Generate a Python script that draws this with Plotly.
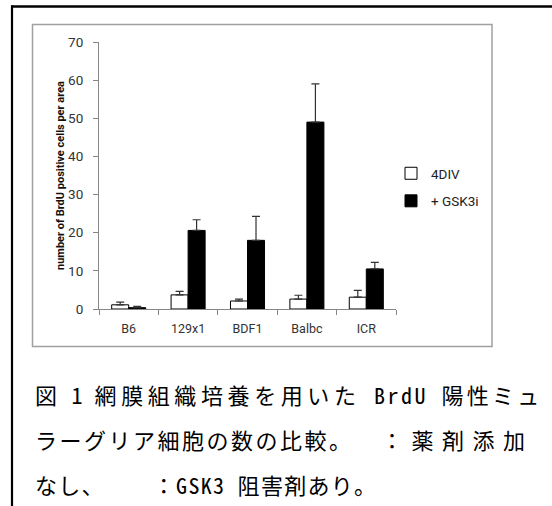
import plotly.graph_objects as go

# ---- data ----
categories = ["B6", "129x1", "BDF1", "Balbc", "ICR"]
div4_values = [1.1, 3.7, 2.1, 2.6, 3.1]
div4_errors = [0.7, 0.9, 0.5, 1.0, 1.8]
gsk_values = [0.35, 20.6, 18.0, 49.0, 10.5]
gsk_errors = [0.35, 2.8, 6.3, 10.0, 1.7]
series_names = ["4DIV", "+ GSK3i"]
y_title = "number of BrdU positive cells per area"
# caption pieces (text, letter-spacing in px) - justified like the source document
caption_line1 = [("図", 3), (" 1 ", 0.5), ("網膜組織培養を用いた", 4.6), (" BrdU ", 2.5), ("陽性ミュ", 3.2)]
caption_line2a = [("ラーグリア細胞の数の比較。", 2.5)]
caption_line2b = [("：薬剤添加", 8.5)]
caption_line3 = [("なし、　　 ：GSK3 阻害剤あり。", 1.3)]

W, H = 552, 506
PW, PH = 297, 267
L, T = 99, 42
R, B = W - L - PW, H - T - PH


def px(x):
    return (x - L) / PW


def py(y):
    return (T + PH - y) / PH


axis_col = "#868686"
err_col = "#333333"
cap_font = "Noto Sans Mono CJK JP, Noto Sans CJK JP"

fig = go.Figure()
fig.add_trace(go.Bar(
    x=categories, y=div4_values, name=series_names[0],
    marker=dict(color="white", line=dict(color="black", width=1)),
    error_y=dict(type="data", array=div4_errors, arrayminus=[0] * len(div4_errors),
                 symmetric=False, color=err_col, thickness=1.2, width=4),
    legendgroup="a",
))
fig.add_trace(go.Bar(
    x=categories, y=gsk_values, name=series_names[1],
    marker=dict(color="black", line=dict(color="black", width=1)),
    error_y=dict(type="data", array=gsk_errors, arrayminus=[0] * len(gsk_errors),
                 symmetric=False, color=err_col, thickness=1.2, width=4),
    legendgroup="b",
))

fig.update_layout(
    width=W, height=H,
    margin=dict(l=L, r=R, t=T, b=B, pad=0),
    paper_bgcolor="white", plot_bgcolor="white",
    barmode="group", bargap=0.427, bargroupgap=0,
    font=dict(family="Roboto", color="#333333"),
    showlegend=True,
    legend=dict(x=px(391), y=py(158), xanchor="left", yanchor="top",
                font=dict(family="Roboto", size=13.5, color="#222222"),
                traceorder="grouped", tracegroupgap=7,
                bgcolor="rgba(0,0,0,0)"),
    xaxis=dict(showline=True, linecolor=axis_col, linewidth=1,
               ticks="outside", tickson="boundaries", ticklen=5, tickcolor=axis_col,
               tickfont=dict(family="Roboto", size=12.5, color="#333333"),
               ticklabelstandoff=8, showgrid=False, zeroline=False, fixedrange=True),
    yaxis=dict(range=[0, 70], dtick=10, showline=True, linecolor=axis_col, linewidth=1,
               ticks="outside", ticklen=5, tickcolor=axis_col,
               tickfont=dict(family="Roboto", size=13.5, color="#333333"),
               ticklabelstandoff=7, showgrid=False, zeroline=False,
               title=dict(text="<b>" + y_title + "</b>",
                          font=dict(family="Roboto", size=11, color="#111111"),
                          standoff=1),
               fixedrange=True),
)

shapes = [
    # gray chart frame
    dict(type="rect", xref="paper", yref="paper", x0=px(32.5), x1=px(492),
         y0=py(346.5), y1=py(24.5), line=dict(color="#a0a0a0", width=1.5),
         fillcolor="rgba(0,0,0,0)", layer="below"),
    # outer black border: top and left lines
    dict(type="line", xref="paper", yref="paper", x0=px(11), x1=px(560),
         y0=py(6.5), y1=py(6.5), line=dict(color="black", width=2.5)),
    dict(type="line", xref="paper", yref="paper", x0=px(12), x1=px(12),
         y0=py(5.5), y1=py(520), line=dict(color="black", width=2.2)),
]
fig.update_layout(shapes=shapes)


def caption(pieces, x, y):
    parts = []
    for text, sp in pieces:
        if sp:
            parts.append('<span style="letter-spacing:%.1fpx">%s</span>' % (sp, text))
        else:
            parts.append(text)
    fig.add_annotation(text="".join(parts), xref="paper", yref="paper", x=px(x), y=py(y),
                       xanchor="left", yanchor="middle", showarrow=False,
                       font=dict(family=cap_font, size=22, color="black"))


caption(caption_line1, 33, 394)
caption(caption_line2a, 33, 439)
caption(caption_line2b, 379, 439)
caption(caption_line3, 33, 484)

# remove the browser's default 8px body margin so the figure sits at the page origin
fig.write_html("out.html", config={"displayModeBar": False},
               post_script="document.body.style.margin='0';")
